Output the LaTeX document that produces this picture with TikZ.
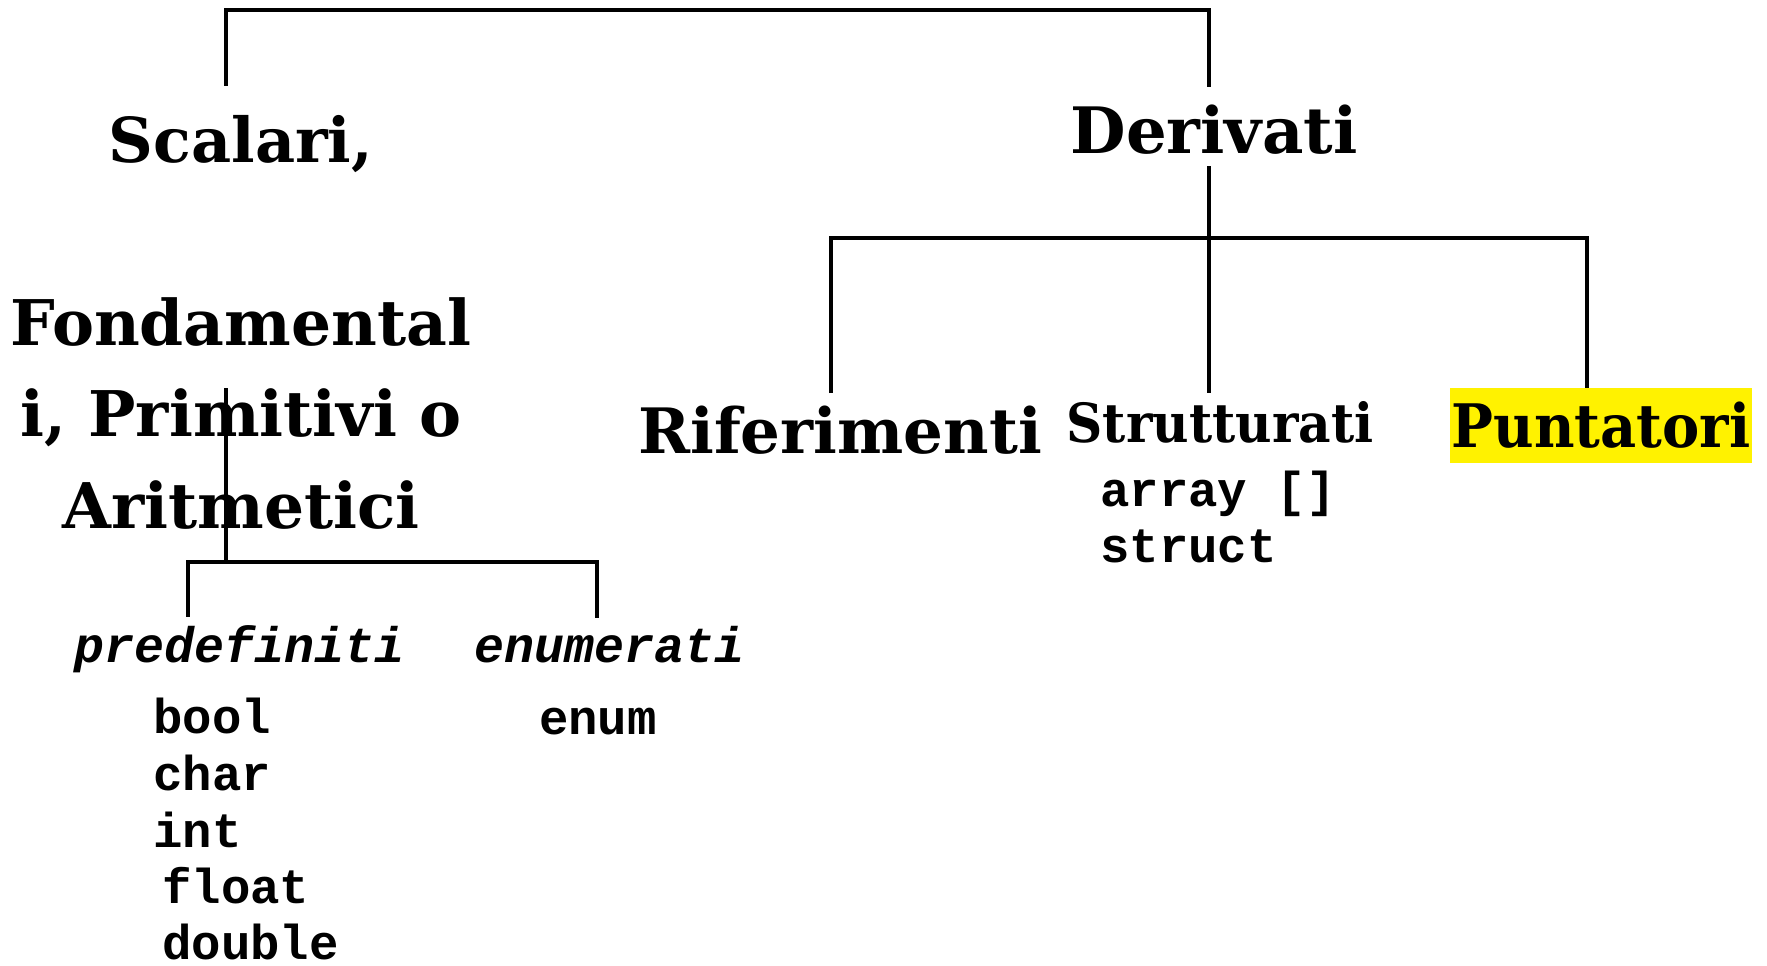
\documentclass[tikz,border=0pt]{standalone}
\usepackage{fontspec}
\setmainfont{DejaVu Serif}
\setmonofont{Liberation Mono}
\newfontfamily\narrowserif{DejaVu Serif}[FakeStretch=0.93]
\usetikzlibrary{calc}

\begin{document}
\begin{tikzpicture}[x=1pt, y=-1pt,
    branch/.style={line width=3.5pt},
    title/.style={font=\bfseries\fontsize{62}{91.5}\selectfont, inner sep=0pt, anchor=base},
    kind/.style={font=\ttfamily\bfseries\itshape\fontsize{50}{60}\selectfont, inner sep=0pt, anchor=base},
    code/.style={font=\ttfamily\bfseries\fontsize{49}{57}\selectfont, inner sep=0pt, anchor=base west}]
  \useasboundingbox (0,0) rectangle (1767,966);
  % junctions of the tree
  \coordinate (lstem) at (226,10);
  \coordinate (rstem) at (1209,10);
  \coordinate (rl) at (831,238);
  \coordinate (rr) at (1587,238);
  \coordinate (low) at (226,562);
  \coordinate (pl) at (188,562);
  \coordinate (pr) at (597,562);
  % labels
  \node[title] (scal) at (241,162) {Scalari,};
  \node[title, anchor=north, align=center, font=\bfseries\fontsize{63}{91.5}\selectfont] (fond) at (241,297) {Fondamental\\i, Primitivi o\\Aritmetici};
  \node[title, font=\bfseries\fontsize{64}{70}\selectfont] (deriv) at (1214,153) {Derivati};
  \node[title, font=\bfseries\fontsize{62.6}{70}\selectfont] (rif) at (840,453) {Riferimenti};
  \node[title, font=\narrowserif\bfseries\fontsize{54}{60}\selectfont] (strut) at (1220,442) {Strutturati};
  \node[title, anchor=center, fill=yellow, minimum width=302pt, minimum height=75pt,
        font=\narrowserif\bfseries\fontsize{60}{66}\selectfont] (punt) at (1601,425.5) {Puntatori};
  \node[code] (array) at (1100,506) {array []};
  \node[code] (struct) at (1100,562) {struct};
  \node[kind] (predef) at (240,662) {predefiniti};
  \node[kind] (enumer) at (610,662) {enumerati};
  \foreach \t/\x/\y in {bool/153/733, char/153/790, int/153/847, float/162/903, double/162/959}
    \node[code] (\t) at (\x,\y) {\t};
  \node[code, anchor=base] (enum) at (598,734) {enum};
  % branches
  \draw[branch] ($(scal.north -| lstem)+(0,-29)$) -- (lstem) -- (rstem) -- ($(deriv.north -| rstem)+(0,-17)$);
  \draw[branch] ($(deriv.south -| rstem)+(0,12)$) -- ($(strut.north -| rstem)+(0,-8)$);
  \draw[branch] ($(rif.north -| rl)+(0,-12)$) -- (rl) -- (rr) -- (punt.north -| rr);
  \draw[branch] ($(fond.north -| low)+(0,91)$) -- (low);
  \draw[branch] ($(predef.north -| pl)+(0,-8)$) -- (pl) -- (pr) -- ($(enumer.north -| pr)+(0,-8)$);
\end{tikzpicture}
\end{document}
